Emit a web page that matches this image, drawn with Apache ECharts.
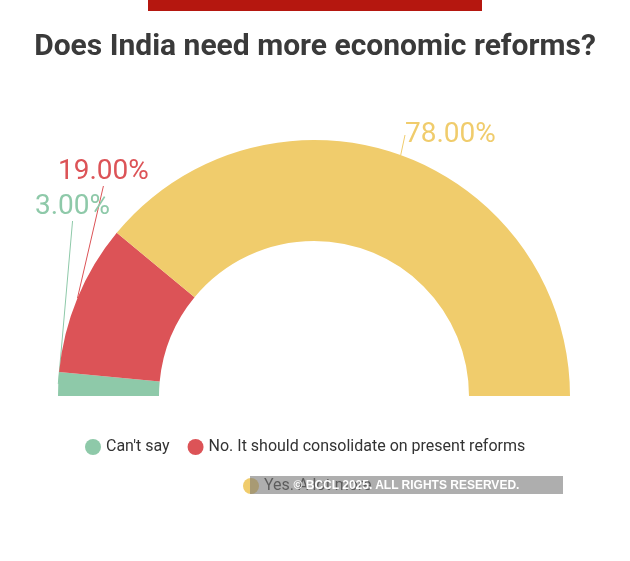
<!DOCTYPE html>
<html><head><meta charset="utf-8">
<script src="https://cdn.jsdelivr.net/npm/echarts@6/dist/echarts.min.js"></script>
<style>html,body{margin:0;padding:0;background:#fff}#c{width:630px;height:561px;position:relative}
#bar{position:absolute;left:148px;top:0;width:334px;height:11px;background:#b5170f}
#wm{position:absolute;left:250px;top:476px;width:313px;height:18px;background:rgba(120,120,120,0.6);color:#fff;font:bold 12px 'Liberation Sans',Arial;line-height:18px;text-align:center}</style>
</head><body><div id="c"></div><div id="bar"></div><div id="wm">© BCCL 2025. ALL RIGHTS RESERVED.</div>
<script>
const categories=["Can't say","No. It should consolidate on present reforms","Yes. A lot more"];
const values=[3,19,78];
const colors=['#8ec9a9','#dc5357','#f0cc6c'];
const labelPos=[[35,207],[58,172],[405,135]];
const chart=echarts.init(document.getElementById('c'));
const lt={fontSize:16,color:'#333',fontFamily:'Roboto'};
chart.setOption({
 title:{text:'Does India need more economic reforms?',left:'center',top:27,textStyle:{fontSize:30,fontWeight:'bold',color:'#3a3a3a',fontFamily:'Roboto'}},
 color:colors,
 legend:[{left:80,top:434,itemGap:18,icon:'circle',itemWidth:16,itemHeight:16,textStyle:lt,data:categories.slice(0,2)},
  {left:238,top:473,icon:'circle',itemWidth:16,itemHeight:16,textStyle:lt,data:categories.slice(2)}],
 series:[{type:'pie',center:[314,396],radius:[155,256],startAngle:180,endAngle:0,silent:true,
  data:categories.map((c,i)=>({name:c,value:values[i],label:{color:colors[i]}})),
  label:{show:true,formatter:p=>p.value.toFixed(2)+'%',fontSize:28,fontFamily:'Roboto',overflow:'none',width:200},
  labelLine:{show:true,length:6,length2:0,lineStyle:{width:1}},
  labelLayout:p=>({x:labelPos[p.dataIndex][0],y:labelPos[p.dataIndex][1],align:'left',verticalAlign:'middle'})
 }]
});
</script></body></html>
